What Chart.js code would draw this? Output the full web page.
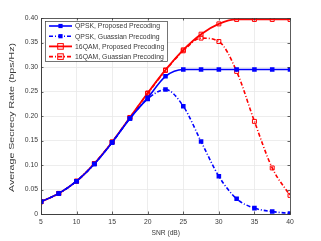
<!DOCTYPE html>
<html>
<head>
<meta charset="utf-8">
<script src="https://cdn.jsdelivr.net/npm/chart.js@4"></script>
<style>
  html, body { margin: 0; padding: 0; background: #fff; }
  #wrap { width: 321px; height: 241px; }
</style>
</head>
<body>
<div id="wrap"><canvas id="myChart" width="321" height="241"></canvas></div>
<script>
var snr = [5, 7.5, 10, 12.5, 15, 17.5, 20, 22.5, 25, 27.5, 30, 32.5, 35, 37.5, 40];

var qpskProposed = [0.025, 0.042, 0.067, 0.102, 0.146, 0.195, 0.237, 0.281, 0.295, 0.295, 0.295, 0.295, 0.295, 0.295, 0.295];
var qpskGaussian = [0.025, 0.042, 0.067, 0.102, 0.146, 0.195, 0.235, 0.254, 0.220, 0.148, 0.077, 0.031, 0.012, 0.005, 0.001];
var qamProposed = [0.025, 0.042, 0.067, 0.103, 0.147, 0.197, 0.247, 0.294, 0.335, 0.367, 0.388, 0.397, 0.397, 0.397, 0.397];
var qamGaussian = [0.025, 0.042, 0.067, 0.103, 0.147, 0.197, 0.246, 0.293, 0.333, 0.359, 0.352, 0.291, 0.189, 0.094, 0.038];

var seriesNames = ["QPSK, Proposed Precoding", "QPSK, Guassian Precoding", "16QAM, Proposed Precoding", "16QAM, Guassian Precoding"];

var xTicks = [5, 10, 15, 20, 25, 30, 35, 40];
var xTitle = "SNR (dB)";
var yTitle = "Average Secrecy Rate (bps/Hz)";

var FONT = "'Liberation Sans', Arial, sans-serif";
var AXIS = "#3a3a3a";

function pts(ys) {
    return ys.map(function (y, i) { return { x: snr[i], y: y }; });
}

// draw text stretched along its baseline so it spans `width` px
function fitText(c, text, x, y, width) {
    var s = width / c.measureText(text).width;
    c.save();
    c.translate(x, y);
    c.scale(s, 1);
    c.fillText(text, 0, 0);
    c.restore();
}

// legend drawn inside the plot, like matlab's "northwest" legend
var insideLegend = {
    id: "insideLegend",
    afterDraw: function (chart) {
        var c = chart.ctx;
        var area = chart.chartArea;
        var x0 = area.left + 4, y0 = area.top + 3;
        var w = 122, h = 40;
        c.save();
        c.fillStyle = "#fff";
        c.fillRect(x0, y0, w, h);
        c.strokeStyle = AXIS;
        c.lineWidth = 0.7;
        c.strokeRect(x0 + 0.5, y0 + 0.5, w, h);
        c.font = "7.2px " + FONT;
        c.textBaseline = "middle";
        c.textAlign = "left";
        var s = 85 / c.measureText(seriesNames[0]).width;
        chart.data.datasets.forEach(function (ds, i) {
            var y = y0 + 5 + i * 10.2;
            c.strokeStyle = ds.borderColor;
            c.lineWidth = ds.borderWidth;
            c.setLineDash(ds.borderDash || []);
            c.beginPath();
            c.moveTo(x0 + 4, y);
            c.lineTo(x0 + 27, y);
            c.stroke();
            c.setLineDash([]);
            var r = ds.pointRadius;
            c.lineWidth = 1;
            if (ds.pointBackgroundColor !== "transparent") {
                c.fillStyle = ds.pointBackgroundColor;
                c.fillRect(x0 + 15.5 - r, y - r, 2 * r, 2 * r);
            } else {
                c.strokeRect(x0 + 15.5 - r, y - r, 2 * r, 2 * r);
            }
            c.fillStyle = AXIS;
            c.save();
            c.translate(x0 + 30, y + 0.5);
            c.scale(s, 1);
            c.fillText(ds.label, 0, 0);
            c.restore();
        });
        c.restore();
    }
};

// box round the plot area, inward ticks, axis titles
var boxOn = {
    id: "boxOn",
    afterDatasetsDraw: function (chart) {
        var a = chart.chartArea, c = chart.ctx;
        var xs = chart.scales.x, ys = chart.scales.y;
        c.save();
        c.strokeStyle = AXIS;
        c.lineWidth = 0.8;
        c.strokeRect(a.left + 0.5, a.top + 0.5, a.right - a.left, a.bottom - a.top);
        c.beginPath();
        xTicks.forEach(function (v) {
            var px = Math.round(xs.getPixelForValue(v)) + 0.5;
            c.moveTo(px, a.bottom); c.lineTo(px, a.bottom - 2.5);
            c.moveTo(px, a.top); c.lineTo(px, a.top + 2.5);
        });
        ys.ticks.forEach(function (t) {
            var py = Math.round(ys.getPixelForValue(t.value)) + 0.5;
            c.moveTo(a.left, py); c.lineTo(a.left + 2.5, py);
            c.moveTo(a.right, py); c.lineTo(a.right - 2.5, py);
        });
        c.stroke();

        c.fillStyle = AXIS;
        c.textBaseline = "middle";
        c.textAlign = "left";
        c.font = "7.2px " + FONT;
        fitText(c, xTitle, (a.left + a.right) / 2 - 14, 233.5, 28.5);
        c.translate(12, (a.top + a.bottom) / 2 + 1.5);
        c.rotate(-Math.PI / 2);
        c.font = "7.8px " + FONT;
        fitText(c, yTitle, -74.5, 0, 149);
        c.restore();
    }
};

var ctx = document.getElementById("myChart").getContext("2d");

var myChart = new Chart(ctx, {
    type: "line",
    data: {
        datasets: [
            {
                label: seriesNames[0],
                data: pts(qpskProposed),
                borderColor: "#0000ff",
                backgroundColor: "#0000ff",
                borderWidth: 1.6,
                pointStyle: "rect",
                pointRadius: 2.1,
                pointBackgroundColor: "#0000ff",
                pointBorderColor: "#0000ff"
            },
            {
                label: seriesNames[1],
                data: pts(qpskGaussian),
                borderColor: "#0000ff",
                backgroundColor: "#0000ff",
                borderWidth: 1.6,
                borderDash: [4, 2, 1, 2],
                pointStyle: "rect",
                pointRadius: 2.1,
                pointBackgroundColor: "#0000ff",
                pointBorderColor: "#0000ff"
            },
            {
                label: seriesNames[2],
                data: pts(qamProposed),
                borderColor: "#ff0000",
                backgroundColor: "#ff0000",
                borderWidth: 1.8,
                pointStyle: "rect",
                pointRadius: 2.8,
                pointBorderWidth: 1,
                pointBackgroundColor: "transparent",
                pointBorderColor: "#ff0000"
            },
            {
                label: seriesNames[3],
                data: pts(qamGaussian),
                borderColor: "#ff0000",
                backgroundColor: "#ff0000",
                borderWidth: 1.6,
                borderDash: [4, 2, 1, 2],
                pointStyle: "rect",
                pointRadius: 2.8,
                pointBorderWidth: 1,
                pointBackgroundColor: "transparent",
                pointBorderColor: "#ff0000"
            }
        ]
    },
    options: {
        responsive: false,
        animation: false,
        devicePixelRatio: 1,
        cubicInterpolationMode: "monotone",
        layout: { padding: { top: 18, right: 31, left: 0, bottom: 0 } },
        plugins: {
            legend: { display: false },
            tooltip: { enabled: false }
        },
        scales: {
            x: {
                type: "linear",
                min: 5,
                max: 40,
                afterBuildTicks: function (axis) {
                    axis.ticks = xTicks.map(function (v) { return { value: v }; });
                },
                grid: { color: "#e8e8e8", lineWidth: 0.8, drawTicks: false },
                border: { color: AXIS, width: 0.8 },
                ticks: { color: AXIS, font: { family: FONT, size: 6.8 }, padding: 4, maxRotation: 0 },
                afterFit: function (axis) { axis.height = 27; }
            },
            y: {
                min: 0,
                max: 0.4,
                ticks: { stepSize: 0.05, color: AXIS, font: { family: FONT, size: 6.8 }, padding: 3 },
                grid: { color: "#e8e8e8", lineWidth: 0.8, drawTicks: false },
                border: { color: AXIS, width: 0.8 },
                afterFit: function (axis) { axis.width = 41; }
            }
        }
    },
    plugins: [insideLegend, boxOn]
});
</script>
</body>
</html>
